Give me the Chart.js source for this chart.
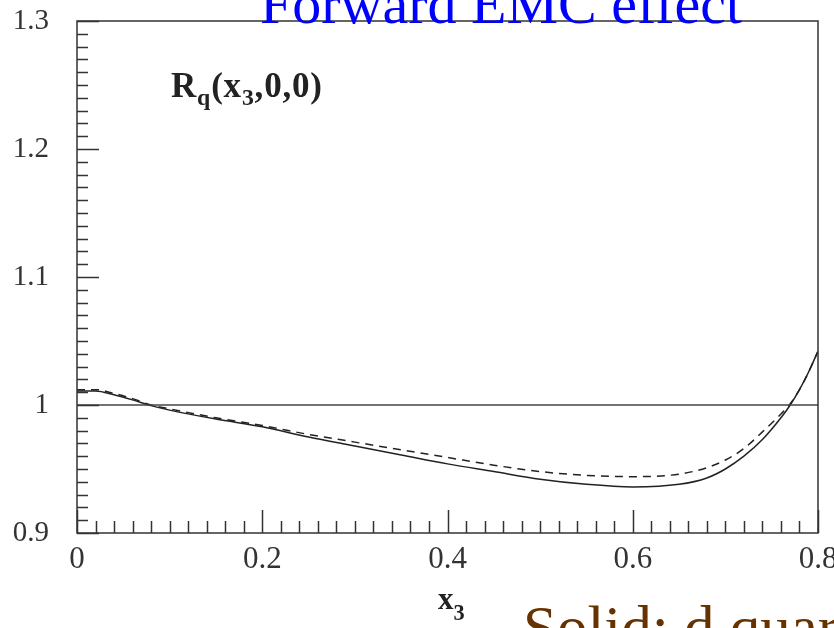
<!DOCTYPE html>
<html>
<head>
<meta charset="utf-8">
<title>Forward EMC effect</title>
<script src="https://cdn.jsdelivr.net/npm/chart.js@4/dist/chart.umd.min.js"></script>
<style>
  body { margin: 0; background: #fff; }
  #wrap { position: relative; width: 834px; height: 628px; overflow: hidden; font-family: 'Liberation Serif', 'DejaVu Serif', serif; }
  #plot { position: absolute; left: 0; top: 0; }
  .txt { position: absolute; white-space: nowrap; line-height: 1; }
  #title { left: 260px; top: -25px; font-size: 58px; color: #0000ff; }
  #rlabel { left: 171px; top: 68px; font-size: 35px; letter-spacing: 0.8px; font-weight: bold; color: #222; }
  #xlabel { left: 438px; top: 583px; font-size: 31px; font-weight: bold; color: #222; }
  #xlabel .sub { font-size: 0.72em; top: 0.5em; }
  #note { left: 523px; top: 597px; font-size: 61px; color: #663300; }
  .sub { font-size: 0.68em; position: relative; top: 0.32em; }
</style>
</head>
<body>
<div id="wrap">
  <canvas id="plot" width="834" height="628"></canvas>
  <div class="txt" id="title">Forward EMC effect</div>
  <div class="txt" id="rlabel">R<span class="sub">q</span>(x<span class="sub">3</span>,0,0)</div>
  <div class="txt" id="xlabel">x<span class="sub">3</span></div>
  <div class="txt" id="note">Solid: d quark</div>
</div>
<script>
// x3 grid and R_q(x3,0,0) for the two curves
const xs = [0, 0.02, 0.04, 0.06, 0.08, 0.1, 0.15, 0.2, 0.25, 0.3, 0.35, 0.4, 0.45, 0.5,
            0.55, 0.6, 0.65, 0.68, 0.7, 0.72, 0.74, 0.76, 0.77, 0.78, 0.79, 0.8];
const solidR = [1.011, 1.011, 1.008, 1.004, 0.9995, 0.996, 0.989, 0.983, 0.975, 0.968, 0.961, 0.954, 0.948, 0.942,
                0.938, 0.936, 0.938, 0.943, 0.950, 0.960, 0.973, 0.990, 1.000, 1.012, 1.026, 1.042];
const dashedR = [1.012, 1.012, 1.009, 1.005, 1.000, 0.997, 0.990, 0.984, 0.977, 0.971, 0.965, 0.959, 0.953, 0.948,
                 0.945, 0.944, 0.946, 0.951, 0.957, 0.966, 0.979, 0.993, 1.001, 1.012, 1.026, 1.042];
const refLine = [1, 1];
const refX = [0, 0.8];

const xTicks = [0, 0.2, 0.4, 0.6, 0.8];
const yTicks = [0.9, 1, 1.1, 1.2, 1.3];
const xLabels = ['0', '0.2', '0.4', '0.6', '0.8'];
const yLabels = ['0.9', '1', '1.1', '1.2', '1.3'];

const pts = (xv, yv) => xv.map((x, i) => ({ x: x, y: yv[i] }));

// frame plus inward ROOT-style tick marks on the left and bottom edges
const framePlugin = {
  id: 'frame',
  afterDraw(chart) {
    const { ctx, chartArea: a, scales } = chart;
    ctx.save();
    ctx.strokeStyle = '#333';
    ctx.lineWidth = 1.5;
    ctx.strokeRect(a.left, a.top, a.right - a.left, a.bottom - a.top);
    ctx.beginPath();
    for (let i = 0; i <= 40; i++) {
      const py = Math.round(scales.y.getPixelForValue(0.9 + i * 0.01)) + 0.5;
      const len = i % 10 === 0 ? 22 : 11;
      ctx.moveTo(a.left, py);
      ctx.lineTo(a.left + len, py);
    }
    for (let i = 0; i <= 40; i++) {
      const px = Math.round(scales.x.getPixelForValue(i * 0.02)) + 0.5;
      const len = i % 10 === 0 ? 23 : 12;
      ctx.moveTo(px, a.bottom);
      ctx.lineTo(px, a.bottom - len);
    }
    ctx.stroke();
    ctx.restore();
  }
};

new Chart(document.getElementById('plot'), {
  type: 'line',
  data: {
    datasets: [
      {
        label: 'R = 1',
        data: pts(refX, refLine),
        borderColor: '#444',
        borderWidth: 1.5,
        pointRadius: 0,
        tension: 0
      },
      {
        label: 'solid',
        data: pts(xs, solidR),
        borderColor: '#222',
        borderWidth: 1.5,
        pointRadius: 0,
        cubicInterpolationMode: 'monotone'
      },
      {
        label: 'dashed',
        data: pts(xs, dashedR),
        borderColor: '#222',
        borderWidth: 1.5,
        borderDash: [8, 6],
        pointRadius: 0,
        cubicInterpolationMode: 'monotone'
      }
    ]
  },
  options: {
    responsive: false,
    animation: false,
    layout: { padding: { top: 21, right: 16, left: 0, bottom: 0 } },
    plugins: { legend: { display: false }, tooltip: { enabled: false } },
    scales: {
      x: {
        type: 'linear',
        min: 0,
        max: 0.8,
        // fixed axis box; labels may overhang the canvas edge
        afterFit: (s) => { s.height = 95; s.paddingLeft = 0; s.paddingRight = 0; },
        afterBuildTicks: (s) => { s.ticks = xTicks.map(v => ({ value: v })); },
        grid: { display: false, drawTicks: false },
        border: { display: false },
        ticks: {
          padding: 8,
          color: '#333',
          font: { family: 'Liberation Serif', size: 31 },
          maxRotation: 0,
          callback: (v) => xLabels[xTicks.indexOf(v)]
        }
      },
      y: {
        type: 'linear',
        min: 0.9,
        max: 1.3,
        afterFit: (s) => { s.width = 77; s.paddingTop = 0; s.paddingBottom = 0; },
        afterBuildTicks: (s) => { s.ticks = yTicks.map(v => ({ value: v })); },
        grid: { display: false, drawTicks: false },
        border: { display: false },
        ticks: {
          padding: 28,
          color: '#333',
          font: { family: 'Liberation Serif', size: 29 },
          callback: (v) => yLabels[yTicks.indexOf(v)]
        }
      }
    }
  },
  plugins: [framePlugin]
});
</script>
</body>
</html>
